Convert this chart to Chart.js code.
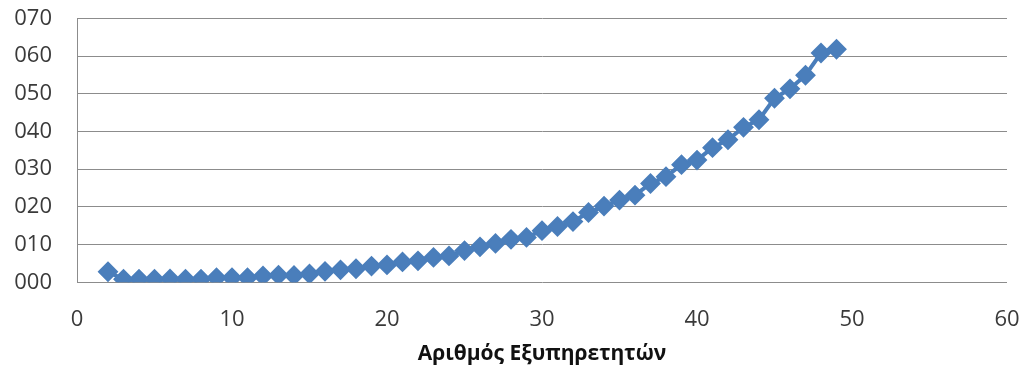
<!DOCTYPE html>
<html>
<head>
<meta charset="utf-8">
<title>Αριθμός Εξυπηρετητών</title>
<script src="https://cdn.jsdelivr.net/npm/chart.js@4/dist/chart.umd.min.js"></script>
<style>
  html, body { margin: 0; padding: 0; background: #ffffff; }
  #wrap { width: 1027px; height: 374px; }
</style>
</head>
<body>
<div id="wrap"><canvas id="chart" width="1027" height="374"></canvas></div>
<script>
// Number of servers (x) and the measured value for each
const servers = [2, 3, 4, 5, 6, 7, 8, 9, 10, 11, 12, 13, 14, 15, 16, 17, 18, 19, 20, 21, 22, 23, 24, 25,
                 26, 27, 28, 29, 30, 31, 32, 33, 34, 35, 36, 37, 38, 39, 40, 41, 42, 43, 44, 45, 46, 47, 48, 49];
const values = [2.8, 0.8, 0.8, 0.8, 0.9, 0.8, 0.8, 1.2, 1.2, 1.2, 1.7, 1.9, 1.8, 2.2, 2.9, 3.3, 3.6, 4.3, 4.6, 5.4, 5.7, 6.6, 7.0, 8.4,
                9.4, 10.3, 11.4, 11.9, 13.7, 14.8, 16.1, 18.5, 20.2, 21.8, 23.1, 26.2, 28.0, 31.2, 32.4, 35.7, 37.8, 41.1, 43.1, 48.8, 51.3, 54.9, 60.8, 61.8];

// Axis tick labels
const xTickLabels = ['0', '10', '20', '30', '40', '50', '60'];
const yTickLabels = ['000', '010', '020', '030', '040', '050', '060', '070'];
const xTitle = 'Αριθμός Εξυπηρετητών';

const points = servers.map((s, i) => ({ x: s, y: values[i] }));

const BLUE = '#4A7EBB';
const GRID = '#8c8c8c';
const TEXT = '#3a3a3a';
const FONT = '"Open Sans", "Noto Sans", sans-serif';

new Chart(document.getElementById('chart'), {
  type: 'line',
  data: {
    datasets: [{
      data: points,
      borderColor: BLUE,
      backgroundColor: BLUE,
      borderWidth: 4,
      pointStyle: 'rectRot',
      pointRadius: 9,
      pointBorderWidth: 2,
      pointBackgroundColor: BLUE,
      pointBorderColor: BLUE,
      tension: 0,
      fill: false
    }]
  },
  options: {
    responsive: false,
    animation: false,
    layout: { padding: 0 },
    plugins: {
      legend: { display: false },
      tooltip: { enabled: false }
    },
    scales: {
      x: {
        type: 'linear',
        min: 0,
        max: 60,
        // fixed band under the plot for tick labels and the axis title
        afterFit: (s) => { s.height = 91.7; s.paddingLeft = 0; s.paddingRight = 20; },
        grid: { display: false, drawTicks: false },
        border: { display: false },
        ticks: {
          stepSize: 10,
          padding: 24,
          maxRotation: 0,
          color: TEXT,
          font: { family: FONT, size: 22 },
          callback: (v) => xTickLabels[Math.round(v / 10)]
        },
        title: {
          display: true,
          text: xTitle,
          color: '#111111',
          font: { family: FONT, size: 21, weight: 'bold' },
          padding: { top: 0, bottom: 7 }
        }
      },
      y: {
        type: 'linear',
        min: 0,
        max: 70,
        afterFit: (s) => { s.width = 77; s.paddingTop = 18.3; s.paddingBottom = 0; },
        grid: { color: GRID, lineWidth: 1, drawTicks: false },
        border: { display: true, color: GRID, width: 1 },
        ticks: {
          stepSize: 10,
          padding: 25,
          color: TEXT,
          font: { family: FONT, size: 22 },
          callback: (v) => yTickLabels[Math.round(v / 10)]
        }
      }
    }
  }
});
</script>
</body>
</html>
